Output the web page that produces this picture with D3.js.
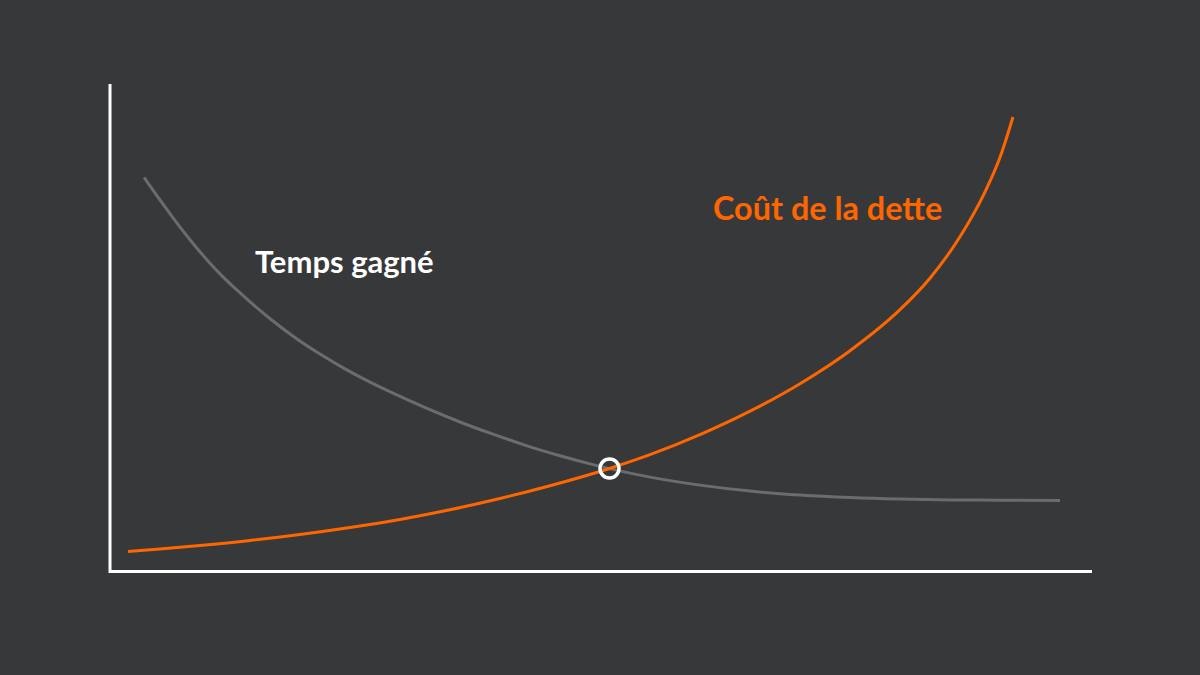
<!DOCTYPE html>
<html>
<head>
<meta charset="utf-8">
<script src="https://cdn.jsdelivr.net/npm/d3@7/dist/d3.min.js"></script>
<style>
  html, body { margin: 0; padding: 0; background: #37383a; }
  svg { display: block; }
</style>
</head>
<body>
<svg id="chart" width="1200" height="675"></svg>
<script>
// Data (abstract units, 0-100 on both axes)
const costX = [1.84, 5.10, 9.18, 14.29, 19.39, 24.49, 29.59, 34.69, 39.80, 44.90, 50.97, 55.10, 60.20, 65.31, 70.41, 75.51, 80.61, 83.67, 86.73, 89.29, 90.82, 92.14];
const costY = [4.01, 4.53, 5.25, 6.28, 7.51, 8.95, 10.60, 12.60, 14.92, 17.54, 21.09, 23.93, 28.05, 32.88, 38.54, 45.33, 53.77, 60.25, 68.77, 78.02, 85.12, 93.42];
const timeX = [3.47, 5.10, 6.43, 8.16, 9.90, 11.53, 13.27, 15.00, 16.63, 19.08, 21.43, 23.98, 26.53, 28.88, 32.35, 35.71, 39.08, 42.55, 45.92, 49.29, 50.97, 55.10, 60.20, 65.31, 70.41, 75.51, 80.61, 85.71, 90.82, 96.94];
const timeY = [81.01, 76.34, 72.65, 68.15, 64.01, 60.51, 57.22, 54.14, 51.44, 47.74, 44.63, 41.58, 38.85, 36.58, 33.44, 30.66, 28.15, 25.76, 23.72, 21.89, 21.07, 19.32, 17.67, 16.44, 15.62, 15.10, 14.79, 14.63, 14.57, 14.53];
const seriesNames = ["Temps gagné", "Coût de la dette"];
const intersection = [50.97, 21.08];

const svg = d3.select("#chart");
const x = d3.scaleLinear().domain([0, 100]).range([110, 1090]);
const y = d3.scaleLinear().domain([0, 100]).range([571, 85]);

svg.append("rect").attr("width", 1200).attr("height", 675).attr("fill", "#37383a");

const line = d3.line().x(d => x(d[0])).y(d => y(d[1])).curve(d3.curveMonotoneX);

const timeData = timeX.map((v, i) => [v, timeY[i]]);
const costData = costX.map((v, i) => [v, costY[i]]);

svg.append("path").datum(timeData).attr("d", line)
  .attr("fill", "none").attr("stroke", "#6b6c6e").attr("stroke-width", 3);
svg.append("path").datum(costData).attr("d", line)
  .attr("fill", "none").attr("stroke", "#ff6600").attr("stroke-width", 3);

// Axes (no ticks)
const gy = svg.append("g").attr("transform", `translate(${x(0) - 0.5},0)`)
  .call(d3.axisLeft(y).tickValues([]).tickSizeOuter(0));
const gx = svg.append("g").attr("transform", `translate(0,${y(0)})`)
  .call(d3.axisBottom(x).tickValues([]).tickSizeOuter(0));
[gx, gy].forEach(g => g.select(".domain").attr("stroke", "#ffffff").attr("stroke-width", 3).attr("stroke-linecap", "square"));

// Intersection marker
svg.append("circle")
  .attr("cx", x(intersection[0])).attr("cy", y(intersection[1])).attr("r", 9.5)
  .attr("fill", "none").attr("stroke", "#ffffff").attr("stroke-width", 3.5);

// Labels
svg.append("text").attr("x", 255).attr("y", 273)
  .attr("font-family", "Lato, sans-serif").attr("font-weight", 700).attr("font-size", 31)
  .attr("fill", "#ffffff").text(seriesNames[0]);
svg.append("text").attr("x", 713).attr("y", 220)
  .attr("font-family", "Lato, sans-serif").attr("font-weight", 700).attr("font-size", 32.4)
  .attr("fill", "#ff6600").text(seriesNames[1]);
</script>
</body>
</html>
